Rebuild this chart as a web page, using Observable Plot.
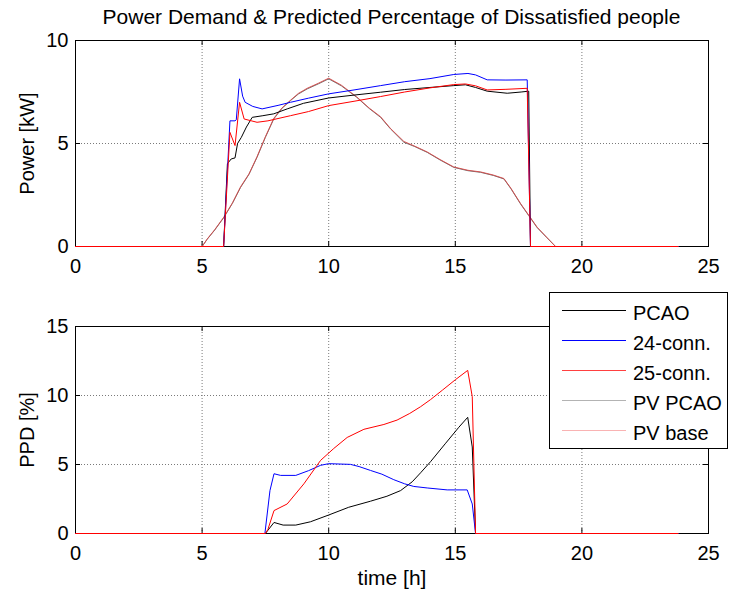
<!DOCTYPE html>
<html><head><meta charset="utf-8">
<script src="https://cdn.jsdelivr.net/npm/d3@7"></script>
<script src="https://cdn.jsdelivr.net/npm/@observablehq/plot@0.6"></script>
<style>
body{margin:0;background:#fff;}
#wrap{position:relative;width:731px;height:594px;font-family:"Liberation Sans",Arial,Helvetica,sans-serif;overflow:hidden;background:#fff;color:#000;}
#title{position:absolute;left:75px;width:633px;top:6px;text-align:center;font-size:21px;line-height:21px;white-space:nowrap;}
#top,#bot{position:absolute;left:0;}
#top{top:0px}
#bot{top:290px}
#legend{position:absolute;left:549px;top:292px;}
</style></head><body>
<div id="wrap">
<div id="title">Power Demand &amp; Predicted Percentage of Dissatisfied people</div>
<div id="top"></div><div id="bot"></div><div id="legend"></div>
</div>
<script>
// ---- data ----
const xTicks = [0, 5, 10, 15, 20, 25];
const powerTicks = [0, 5, 10];
const ppdTicks = [0, 5, 10, 15];
const seriesNames = ["PCAO", "24-conn.", "25-conn.", "PV PCAO", "PV base"];
const seriesColors = ["#000000", "#0000ff", "#ff0000", "#6e6e6e", "#d84848"];
const legendColors = ["#000000", "#0000ff", "#ff4040", "#a0a0a0", "#f8a0a0"];
const legendWidths = [1, 1, 1.2, 0.8, 0.8];

// Power [kW]  (time h, value)
const pcaoPower = [[0,0],[5.85,0],[6.0,4.02],[6.15,4.25],[6.3,4.3],[6.4,5.0],[6.55,5.3],[6.75,5.8],[6.98,6.27],[7.4,6.35],[7.83,6.44],[8.36,6.68],[9,6.95],[10,7.21],[11,7.35],[12.05,7.49],[13,7.62],[14,7.72],[14.94,7.81],[15.4,7.85],[15.8,7.72],[16.26,7.54],[17.05,7.44],[17.6,7.5],[17.9,7.54],[17.97,0],[23.8,0]];
const conn24Power = [[0,0],[5.85,0],[6.1,6.1],[6.3,6.1],[6.35,6.15],[6.48,8.14],[6.6,7.3],[6.7,7.0],[7.0,6.8],[7.37,6.68],[8,6.85],[8.49,7.0],[9.2,7.2],[10,7.41],[11,7.6],[12.05,7.81],[13,8.0],[14,8.15],[14.94,8.35],[15.5,8.4],[15.8,8.33],[16.26,8.09],[17,8.08],[17.84,8.09],[17.97,0],[23.8,0]];
const conn25Power = [[0,0],[5.85,0],[6.1,5.54],[6.3,4.9],[6.48,7.0],[6.66,6.19],[7.17,6.03],[7.6,6.1],[8.49,6.35],[9.2,6.55],[10,6.84],[11,7.05],[12.05,7.28],[13,7.5],[14,7.7],[14.94,7.86],[15.4,7.89],[15.8,7.8],[16.26,7.6],[17,7.63],[17.84,7.68],[17.97,0],[23.8,0]];
const pvPcaoPower = [[0,0],[5.0,0],[5.2,0.35],[5.5,0.8],[5.86,1.41],[6.2,2.1],[6.52,2.87],[6.85,3.5],[7.17,4.33],[7.5,5.3],[7.83,6.19],[8.15,6.7],[8.49,7.08],[8.8,7.4],[9.15,7.65],[9.6,7.9],[10,8.14],[10.5,7.8],[11.1,7.25],[11.6,6.7],[12.05,6.27],[12.44,5.71],[12.97,5.06],[13.4,4.85],[13.89,4.57],[14.4,4.2],[14.94,3.84],[15.5,3.68],[16.0,3.6],[16.5,3.45],[16.92,3.28],[17.2,2.8],[17.58,2.06],[17.9,1.5],[18.23,0.92],[18.6,0.45],[18.96,0],[23.8,0]];
const pvBasePower = [[0,0],[5.0,0],[5.2,0.36],[5.5,0.82],[5.86,1.43],[6.2,2.12],[6.52,2.9],[6.85,3.52],[7.17,4.36],[7.5,5.33],[7.83,6.22],[8.15,6.72],[8.49,7.1],[8.8,7.43],[9.15,7.68],[9.6,7.93],[10,8.17],[10.5,7.83],[11.1,7.27],[11.6,6.72],[12.05,6.3],[12.44,5.73],[12.97,5.1],[13.4,4.87],[13.89,4.59],[14.4,4.22],[14.94,3.86],[15.5,3.7],[16.0,3.62],[16.5,3.47],[16.92,3.3],[17.2,2.82],[17.58,2.08],[17.9,1.52],[18.23,0.94],[18.6,0.46],[18.96,0],[23.8,0]];

// PPD [%]
const pcaoPPD = [[0,0],[7.5,0],[7.84,0.8],[8.2,0.61],[8.7,0.61],[9.28,0.85],[10,1.34],[10.79,1.9],[11.65,2.34],[12.3,2.7],[12.84,3.11],[13.3,3.75],[13.63,4.4],[14.02,5.2],[14.6,6.5],[15.14,7.7],[15.49,8.42],[15.67,6.27],[15.8,0],[23.8,0]];
const conn24PPD = [[0,0],[7.48,0],[7.68,3.11],[7.84,4.33],[8.1,4.21],[8.7,4.21],[9.2,4.55],[9.68,4.94],[10,5.06],[10.86,5.01],[11.2,4.85],[11.65,4.57],[12.1,4.3],[12.57,3.9],[13.0,3.6],[13.36,3.41],[13.89,3.3],[14.68,3.16],[15.47,3.16],[15.67,2.14],[15.8,0],[23.8,0]];
const conn25PPD = [[0,0],[7.5,0],[7.6,0.3],[7.84,1.66],[8.36,2.14],[9.02,3.6],[9.68,5.3],[10.2,6.16],[10.73,6.96],[11.39,7.55],[12.18,7.9],[12.7,8.22],[13.2,8.7],[13.63,9.19],[14.02,9.7],[14.5,10.4],[15.0,11.14],[15.49,11.82],[15.67,9.92],[15.8,0],[23.8,0]];

// ---- layout ----
const W = 731, ML = 75, MR = 23, TICK = 5;
const FONT = "Liberation Sans, Arial, Helvetica, sans-serif";

function panel({lines, height, marginTop, marginBottom, yTicks, yLabel, xLabel}) {
  const yMin = yTicks[0], yMax = yTicks[yTicks.length - 1];
  const xMin = xTicks[0], xMax = xTicks[xTicks.length - 1];
  const innerW = W - ML - MR, innerH = height - marginTop - marginBottom;
  const ty = TICK * (yMax - yMin) / innerH;
  const tx = TICK * (xMax - xMin) / innerW;
  const grid = {stroke: "#7a7a7a", strokeOpacity: 1, strokeDasharray: "1,2"};
  const marks = [
    Plot.gridX(xTicks, grid),
    Plot.gridY(yTicks, grid),
    Plot.frame({stroke: "#000", strokeWidth: 1}),
    Plot.ruleX(xTicks, {x: d => d, y1: yMin, y2: yMin + ty, stroke: "#000"}),
    Plot.ruleX(xTicks, {x: d => d, y1: yMax - ty, y2: yMax, stroke: "#000"}),
    Plot.ruleY(yTicks, {y: d => d, x1: xMin, x2: xMin + tx, stroke: "#000"}),
    Plot.ruleY(yTicks, {y: d => d, x1: xMax - tx, x2: xMax, stroke: "#000"}),
    ...lines.map(l => Plot.line(l.data, {x: d => d[0], y: d => d[1], stroke: l.color, strokeWidth: l.width || 1})),
    Plot.axisX(xTicks, {tickSize: 0, tickPadding: 12, fontSize: 20, label: null}),
    Plot.axisY(yTicks, {tickSize: 0, tickPadding: 7, fontSize: 20, label: null}),
    Plot.text([yLabel], {text: d => d, frameAnchor: "left", rotate: -90, dx: -42, lineAnchor: "bottom", textAnchor: "middle", fontSize: 20, fill: "#000"})
  ];
  if (xLabel) marks.push(Plot.text([xLabel], {text: d => d, frameAnchor: "bottom", dy: 51, lineAnchor: "bottom", textAnchor: "middle", fontSize: 21, fill: "#000"}));
  return Plot.plot({
    width: W, height, marginLeft: ML, marginRight: MR, marginTop, marginBottom,
    x: {domain: [xMin, xMax]},
    y: {domain: [yMin, yMax]},
    style: {fontFamily: FONT, fontSize: "20px", background: "transparent", overflow: "visible", color: "#000"},
    marks
  });
}

document.getElementById("top").append(panel({
  height: 290, marginTop: 40, marginBottom: 44, yTicks: powerTicks, yLabel: "Power [kW]",
  lines: [
    {data: pvPcaoPower, color: seriesColors[3]},
    {data: pvBasePower, color: seriesColors[4], width: 0.9},
    {data: pcaoPower, color: seriesColors[0]},
    {data: conn24Power, color: seriesColors[1]},
    {data: conn25Power, color: seriesColors[2]}
  ]
}));

document.getElementById("bot").append(panel({
  height: 304, marginTop: 36, marginBottom: 61, yTicks: ppdTicks, yLabel: "PPD [%]", xLabel: "time [h]",
  lines: [
    {data: pcaoPPD, color: seriesColors[0]},
    {data: conn24PPD, color: seriesColors[1]},
    {data: conn25PPD, color: seriesColors[2]}
  ]
}));

// ---- legend ----
const LW = 179, LH = 157, rowH = 30, row0 = 18;
const leg = d3.select("#legend").append("svg")
  .attr("width", LW).attr("height", LH)
  .style("font-family", FONT).style("font-size", "20px").style("display", "block");
leg.append("rect").attr("x", 0.5).attr("y", 0.5).attr("width", LW - 1).attr("height", LH - 1)
  .attr("fill", "#fff").attr("stroke", "#000");
const rows = leg.selectAll("g").data(seriesNames).join("g")
  .attr("transform", (d, i) => `translate(0,${row0 + i * rowH})`);
rows.append("line").attr("x1", 13).attr("x2", 77).attr("y1", 0.5).attr("y2", 0.5)
  .attr("stroke", (d, i) => legendColors[i]).attr("stroke-width", (d, i) => legendWidths[i]);
rows.append("text").attr("x", 84).attr("y", 10).text(d => d).attr("fill", "#000");
</script>
</body></html>
